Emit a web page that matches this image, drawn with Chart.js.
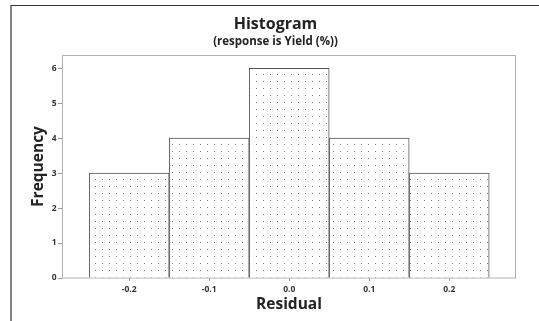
<!DOCTYPE html>
<html>
<head>
<meta charset="utf-8">
<script src="https://cdn.jsdelivr.net/npm/chart.js@4.4.1/dist/chart.umd.min.js"></script>
<style>
html,body{margin:0;padding:0;background:#fff;}
#wrap{width:539px;height:321px;position:relative;}
</style>
</head>
<body>
<div id="wrap"><canvas id="c" width="539" height="321"></canvas></div>
<script>
const binCenters = [-0.2, -0.1, 0.0, 0.1, 0.2];
const frequencies = [3, 4, 6, 4, 3];
const xTickLabels = ['-0.2', '-0.1', '0.0', '0.1', '0.2'];
const yTickLabels = ['0', '1', '2', '3', '4', '5', '6'];
const titleText = 'Histogram';
const subtitleText = '(response is Yield (%))';
const xTitle = 'Residual';
const yTitle = 'Frequency';

const FONT = "'Open Sans', 'Noto Sans', sans-serif";

function makeDotPattern() {
  const t = document.createElement('canvas');
  t.width = 7; t.height = 7;
  const g = t.getContext('2d');
  g.fillStyle = '#ffffff';
  g.fillRect(0, 0, 7, 7);
  g.fillStyle = '#777777';
  g.fillRect(4, 4, 1, 1);
  return g.createPattern(t, 'repeat');
}

const frame = {
  id: 'frame',
  beforeDraw(chart) {
    const ctx = chart.ctx;
    ctx.save();
    ctx.strokeStyle = '#333';
    ctx.lineWidth = 1.2;
    ctx.beginPath();
    ctx.moveTo(11, chart.height);
    ctx.lineTo(11, 5.5);
    ctx.lineTo(chart.width, 5.5);
    ctx.stroke();
    ctx.restore();
  },
  beforeDatasetsDraw(chart) {
    const a = chart.chartArea;
    const ctx = chart.ctx;
    ctx.save();
    ctx.strokeStyle = '#b0b0b0';
    ctx.lineWidth = 1;
    ctx.strokeRect(a.left + 0.5, a.top + 0.5, a.right - a.left - 1, a.bottom - a.top - 0.5);
    ctx.restore();
  }
};

new Chart(document.getElementById('c'), {
  type: 'bar',
  data: {
    datasets: [{
      data: binCenters.map((x, i) => ({ x: x, y: frequencies[i] })),
      backgroundColor: makeDotPattern(),
      borderColor: '#555555',
      borderWidth: 1,
      barPercentage: 1,
      categoryPercentage: 1
    }]
  },
  plugins: [frame],
  options: {
    responsive: false,
    animation: false,
    devicePixelRatio: 1,
    layout: { padding: { left: 12, right: 0, top: 0, bottom: 0 } },
    plugins: {
      legend: { display: false },
      tooltip: { enabled: false },
      title: {
        display: true, text: titleText, color: '#222',
        font: { family: FONT, size: 16, weight: 'bold', lineHeight: 1 },
        padding: { top: 16.5, bottom: 0 }
      },
      subtitle: {
        display: true, text: subtitleText, color: '#222',
        font: { family: FONT, size: 11.5, weight: 'bold', lineHeight: 1 },
        padding: { top: 3.5, bottom: 7.5 }
      }
    },
    scales: {
      x: {
        type: 'linear',
        offset: false,
        min: -0.284, max: 0.2835,
        grid: { display: true, drawOnChartArea: false, drawTicks: true, tickLength: 3, color: '#999', offset: false },
        border: { display: false },
        ticks: {
          stepSize: 0.1, includeBounds: false, padding: 3, color: '#333',
          font: { family: FONT, size: 8.5, weight: 'bold' },
          maxRotation: 0,
          callback: (v) => {
            const i = binCenters.findIndex(b => Math.abs(b - v) < 1e-9);
            return i >= 0 ? xTickLabels[i] : '';
          }
        },
        title: {
          display: true, text: xTitle, color: '#222',
          font: { family: FONT, size: 15.5, weight: 'bold', lineHeight: 1 },
          padding: { top: 0, bottom: 8.25 }
        },
        afterFit: (s) => { s.height = 43; }
      },
      y: {
        min: 0, max: 6.38,
        grid: { display: true, drawOnChartArea: false, drawTicks: true, tickLength: 4, color: '#999' },
        border: { display: false },
        ticks: {
          stepSize: 1, includeBounds: false, padding: 1.5, color: '#333',
          font: { family: FONT, size: 8.5, weight: 'bold' },
          callback: (v) => {
            const i = Math.round(v);
            return Math.abs(v - i) < 1e-9 && yTickLabels[i] !== undefined ? yTickLabels[i] : '';
          }
        },
        title: {
          display: true, text: yTitle, color: '#222',
          font: { family: FONT, size: 15.5, weight: 'bold', lineHeight: 1 },
          padding: { top: 18.5, bottom: 0 }
        },
        afterFit: (s) => { s.width = 50; }
      },
      yR: {
        position: 'right',
        display: true,
        grid: { display: false },
        border: { display: false },
        ticks: { display: false },
        afterFit: (s) => { s.width = 23; }
      }
    }
  }
});
</script>
</body>
</html>
